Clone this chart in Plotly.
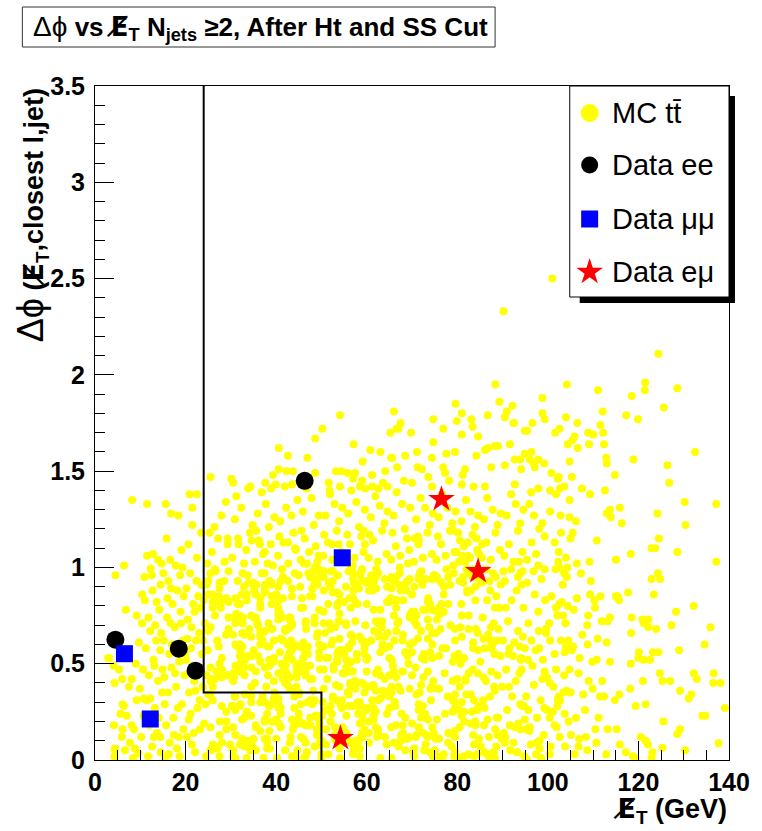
import plotly.graph_objects as go

# ---------------- data (read / estimated from the picture) ----------------
# Data events
ee_x = [4.5, 18.5, 22.2, 46.3]
ee_y = [0.625, 0.578, 0.464, 1.45]
mumu_x = [6.5, 12.2, 54.6]
mumu_y = [0.552, 0.213, 1.05]
emu_x = [54.2, 76.5, 84.6]
emu_y = [0.113, 1.354, 0.98]

# cut contour
cut_x = [24, 24, 50, 50]
cut_y = [3.5, 0.35, 0.35, 0]

# MC ttbar, low MET (0-25 GeV)
mc_left = [
    (3.1,0.53),(4.1,0.49),(4.3,0.40),(4.2,0.18),(4.3,0.055),(4.3,0.017),(2.9,0.53),(4.5,0.96),(4.4,0.06),
    (6.4,1.01),(6.8,0.78),(9.2,0.75),(9.7,0.61),(8.1,0.42),(6.0,0.42),(7.5,0.38),(9.9,0.37),(6.1,0.16),
    (5.9,0.12),(6.4,0.28),(5.6,0.24),(7.7,0.09),(9.6,0.035),(8.4,0.01),(9.2,0.31),(8.2,1.35),(6.1,0.29),
    (7.0,0.23),(8.1,0.18),(8.6,0.16),(5.3,0.47),(9.0,0.50),(8.8,0.06),(6.6,0.05),
    (11.5,1.33),(11.5,1.06),(12.8,1.07),(13.9,1.04),(14.7,1.02),(12.3,0.995),(12.5,0.96),(14.5,0.91),
    (10.4,0.86),(11.0,0.83),(10.4,0.71),(11.8,0.74),(12.2,0.67),(14.4,0.57),(10.8,0.32),(12.2,0.32),
    (10.6,0.47),(13.7,0.14),(14.4,0.12),(13.0,0.12),(14.5,0.04),(11.4,0.31),(12.9,0.52),(13.5,0.62),
    (11.2,0.58),(14.2,0.78),(13.6,0.82),(10.7,0.23),(12.0,0.18),(13.2,0.27),(14.8,0.35),(11.9,0.44),
    (13.9,0.41),(10.2,0.12),(12.6,0.07),(11.7,0.02),(14.1,0.22),(13.3,0.70),(14.6,0.66),(12.7,0.88),
    (10.9,0.95),(13.1,0.49),(14.9,0.47),
    (15.6,1.33),(16.8,1.28),(18.4,1.27),(15.8,1.15),(19.1,1.09),(16.6,1.04),(16.8,0.89),(18.2,0.88),
    (15.5,0.01),(16.3,0.03),(18.7,0.02),(15.2,0.62),(15.9,0.74),(16.4,0.55),(17.1,0.81),(17.6,0.69),
    (18.9,0.77),(19.4,0.62),(15.3,0.43),(16.1,0.35),(16.9,0.48),(17.3,0.22),(17.9,0.38),(18.6,0.51),
    (19.2,0.29),(19.8,0.44),(15.7,0.18),(16.5,0.09),(17.4,0.13),(18.1,0.06),(19.5,0.16),(15.1,0.97),
    (16.2,0.93),(17.8,1.01),(18.8,0.96),(19.6,0.85),(17.0,0.60),(18.3,0.27),(19.0,0.71),(15.4,0.29),
    (16.7,0.71),(17.7,0.45),(19.9,0.55),(18.5,0.12),(16.0,0.84),(19.3,1.0),
    (20.9,1.38),(22.5,1.38),(21.5,1.31),
    (20.3,0.12),(20.8,0.35),(21.2,0.58),(21.7,0.81),(22.1,0.04),(22.6,0.27),(23.0,0.66),(23.5,0.91),
    (24.1,0.19),(24.6,0.44),(20.5,0.73),(21.0,0.97),(21.4,0.08),(21.9,0.41),(22.3,0.62),(22.8,0.85),
    (23.2,0.16),(23.8,0.38),(24.3,0.71),(24.8,1.02),(20.1,0.52),(20.6,1.12),(21.1,0.24),(21.6,0.49),
    (22.0,0.77),(22.5,1.05),(23.1,0.31),(23.6,0.55),(24.0,0.83),(24.5,0.02),(20.7,0.21),(21.3,0.69),
    (21.8,0.14),(22.4,0.93),(22.9,0.47),(23.4,1.18),(23.9,0.62),(24.4,0.29),(24.9,0.57),(20.2,0.89),
    (21.5,1.22),(22.2,0.36),(23.3,0.79),(24.7,0.91),(20.4,0.63),
]

# MC ttbar, core 25-55 GeV
mc_core_a = [
    (25.5,0.41),(27.5,0.92),(28.0,0.53),(27.5,0.89),(28.5,0.93),(26.0,0.38),(27.0,0.62),(28.0,0.43),
    (26.5,0.83),(26.0,0.79),(27.5,0.02),(29.0,0.84),(25.5,0.97),(25.5,0.69),(26.5,0.99),(26.5,0.75),
    (25.5,0.05),(29.0,0.20),(29.5,0.74),(29.5,0.44),(26.5,0.07),(29.0,0.16),(27.0,0.06),(26.0,0.86),
    (26.0,0.08),(29.5,0.98),(28.0,0.28),(25.0,0.34),(29.0,0.25),(26.5,0.42),(25.5,0.17),(25.0,0.67),
    (29.5,0.82),(25.5,0.48),(25.0,0.86),(27.5,0.13),(26.0,0.82),(26.5,0.06),(28.0,0.47),(25.0,0.93),
    (29.0,0.44),(28.0,0.09),(27.5,0.50),(27.5,0.82),(26.0,0.31),
    (25.8,1.08),(27.2,1.15),(28.6,1.03),(26.4,1.21),(29.3,1.12),(27.9,1.27),(25.3,1.18),(28.9,1.34),
    (33.5,0.25),(31.5,0.59),(32.0,0.08),(30.5,0.28),(32.0,0.81),(30.5,0.17),(32.0,0.50),(31.0,0.84),
    (30.5,0.02),(33.5,0.01),(34.5,0.38),(32.5,0.21),(30.5,0.05),(32.5,0.59),(33.0,0.44),(33.0,0.22),
    (34.5,0.48),(34.5,0.54),(34.5,0.30),(31.5,0.81),(34.5,0.64),(32.0,0.28),(34.0,0.10),(34.5,0.75),
    (33.0,0.65),(34.5,0.33),(32.0,0.46),(30.8,0.33),(32.0,0.75),(33.0,0.48),(31.0,0.33),(33.5,0.86),
    (33.5,0.83),(30.5,0.65),(31.0,0.71),(31.0,0.01),(34.5,0.09),(30.5,0.45),(33.2,0.52),(32.5,0.66),
    (34.5,0.23),(32.0,0.60),(31.5,0.48),(33.0,0.10),(32.0,0.54),(31.0,0.26),(33.7,0.96),(31.0,0.13),
    (31.5,0.93),(33.0,0.07),(31.0,0.60),(31.0,0.49),(30.5,0.41),(31.0,0.73),(33.5,0.24),
    (30.3,1.05),(31.7,1.12),(32.9,1.02),(34.2,1.18),(30.9,1.25),(33.4,1.09),(32.3,1.31),(34.8,1.22),
    (31.2,1.37),(33.8,1.41),(34.0,0.92),(32.6,0.97),
    (37.5,0.87),(35.0,0.06),(38.0,0.06),(36.5,0.15),(37.5,0.88),(35.5,0.74),(39.0,0.81),(37.5,0.20),
    (39.5,0.20),(39.5,0.62),(39.0,0.29),(36.0,0.54),(35.0,0.91),(38.5,0.15),(36.5,0.64),(36.5,0.67),
    (39.0,0.92),(37.5,0.90),(36.5,0.60),(35.0,0.11),(36.5,0.30),(37.5,0.30),(37.5,0.48),(39.0,0.20),
    (37.0,0.66),(37.5,0.21),(36.5,0.84),(35.5,0.46),(39.5,0.51),(39.5,0.41),(37.5,0.11),(38.0,0.09),
    (37.0,0.33),(35.0,0.57),(36.0,0.70),(36.5,0.65),(38.5,0.59),(37.5,0.91),(39.5,0.53),(35.0,0.92),
    (35.5,0.86),(35.5,0.17),(36.5,0.81),(39.5,0.32),(38.0,0.11),(38.5,0.93),(35.5,0.05),(35.5,0.18),
    (38.2,0.44),(35.0,0.74),(37.0,0.62),(36.5,0.79),(39.2,0.68),(38.5,0.49),(37.5,0.67),(36.5,0.51),
    (39.0,0.85),(38.5,0.52),(38.0,0.24),(39.0,0.91),
    (35.3,1.03),(36.2,1.14),(37.1,1.07),(38.4,1.21),(39.3,1.01),(35.9,1.28),(37.7,1.33),(38.8,1.12),
    (36.8,1.39),(39.6,1.26),(37.4,0.97),(35.6,1.19),(38.1,1.02),
    (41.0,0.27),(44.5,0.38),(40.5,0.83),(40.0,0.11),(44.5,0.49),(40.5,0.29),(44.0,0.33),(43.0,0.73),
    (41.5,0.62),(42.0,0.40),(43.0,0.56),(43.0,0.43),(40.0,0.86),(40.0,0.21),(41.5,0.94),(44.5,0.46),
    (41.5,0.95),(41.0,0.24),(43.5,0.37),(40.5,0.90),(43.5,0.02),(40.5,0.79),(44.0,0.60),(44.5,0.43),
    (43.2,0.12),(43.5,0.70),(42.5,0.39),(41.0,0.17),(40.5,0.76),(41.0,0.93),(40.8,0.56),(43.5,0.52),
    (41.5,0.84),(43.0,0.74),(44.0,0.18),(42.0,0.67),(43.0,0.69),(42.0,0.05),(40.5,0.32),(40.2,0.01),
    (42.5,0.68),(40.5,0.27),(40.5,0.45),(41.0,0.63),(42.5,0.60),(44.0,0.27),(43.5,0.85),(43.5,0.71),
    (41.5,0.42),(43.5,0.57),(43.5,0.89),(43.0,0.09),(40.5,0.73),(43.0,0.37),(40.5,0.78),(43.5,0.21),
    (42.0,0.68),(42.3,0.45),(44.5,0.01),(41.3,0.99),
    (40.4,1.06),(41.6,1.13),(42.7,1.02),(43.8,1.18),(44.3,1.09),(40.9,1.24),(42.2,1.31),(43.4,1.27),
    (44.7,1.35),(41.9,1.42),(42.6,0.93),(44.1,0.97),(40.7,1.16),
    (49.5,0.53),(47.0,0.30),(45.5,0.46),(47.5,0.49),(47.5,0.85),(46.5,0.71),(45.0,0.50),(48.5,0.92),
    (46.0,0.79),(48.0,0.89),(46.0,0.58),(49.5,0.23),(47.5,0.42),(45.0,0.19),(49.5,0.56),(45.5,0.12),
    (45.5,0.29),(45.0,0.21),(49.5,0.60),(49.0,0.64),(45.0,0.34),(47.0,0.18),(45.5,0.59),(49.0,0.13),
    (48.0,0.29),(48.5,0.74),(48.5,0.71),(46.5,0.09),(49.2,0.66),(47.5,0.18),(48.5,0.07),(46.0,0.11),
    (46.5,0.49),(49.5,0.99),(49.8,0.95),(46.5,0.72),(49.5,0.78),(45.0,0.49),(49.7,0.47),(45.0,0.59),
    (48.5,0.31),(48.2,0.36),(49.0,0.16),(45.0,0.96),(46.5,0.18),(47.5,0.95),(45.0,0.24),(47.0,0.59),
    (47.0,0.55),(46.5,0.46),(49.5,0.08),(46.5,0.02),(48.0,0.42),(47.5,0.22),(46.8,0.04),(46.0,0.53),
    (46.5,0.44),(48.0,0.85),(45.0,0.35),(46.0,0.61),
    (45.4,1.04),(46.3,1.15),(47.3,1.08),(48.3,1.22),(49.1,1.03),(45.9,1.29),(47.8,1.36),(48.7,1.11),
    (46.7,1.41),(49.4,1.27),(47.1,0.97),(45.6,1.19),(48.9,0.94),(46.1,1.02),
    (54.5,0.31),(50.5,0.88),(50.5,0.71),(50.0,0.10),(50.0,0.03),(50.5,0.37),(54.0,0.38),(53.5,0.52),
    (54.0,0.86),(52.5,0.87),(52.5,0.33),(51.0,0.08),(51.5,0.81),(52.0,0.20),(53.0,0.17),(50.5,0.77),
    (53.0,0.69),(50.5,0.47),(51.5,0.03),(52.5,0.98),(51.0,0.53),(52.0,0.90),(52.0,0.28),(53.5,0.55),
    (52.0,0.68),(53.5,0.31),(50.5,0.59),(52.5,0.62),(54.0,0.63),(54.0,0.82),(51.5,0.53),(53.5,0.87),
    (52.5,0.93),(53.5,0.51),(54.5,0.57),(53.5,0.81),(54.0,0.57),(53.5,0.80),(52.5,0.32),(50.8,0.66),
    (51.0,0.26),(54.0,0.06),(53.0,0.13),(50.0,0.01),(54.5,0.27),(54.0,0.76),(53.0,0.11),(50.5,0.95),
    (54.5,0.09),(51.0,0.16),(52.3,0.24),(50.5,0.98),(51.3,0.42),(52.7,0.47),(53.8,0.72),(51.8,0.71),
    (54.7,0.45),(50.2,0.23),(51.6,0.92),(53.2,0.39),
    (50.4,1.06),(51.4,1.13),(52.4,1.04),(53.4,1.19),(54.4,1.08),(50.9,1.27),(52.9,1.33),(53.9,1.24),
    (51.9,1.38),(54.6,1.31),(52.1,0.98),(50.6,1.17),(53.6,0.96),(54.1,1.42),
]

# MC ttbar, core 55-100 GeV
mc_core_b = [
    (55.5,0.14),(56.0,0.59),(56.5,0.65),(59.5,0.58),(56.5,0.79),(59.0,0.23),(56.0,0.46),(56.8,0.61),
    (56.5,0.38),(59.5,0.27),(56.0,0.50),(57.0,0.88),(58.5,0.19),(59.5,0.16),(59.5,0.39),(57.5,0.37),
    (57.5,0.10),(55.0,0.82),(57.0,0.97),(57.0,0.94),(58.5,0.30),(58.0,0.81),(58.0,0.40),(58.0,0.28),
    (59.0,0.20),(59.0,0.99),(59.0,0.62),(57.0,0.03),(57.5,0.82),(56.0,0.34),(58.5,0.11),(58.5,0.06),
    (56.0,0.98),(59.0,0.14),(58.0,0.08),(56.5,0.51),(56.0,0.28),(58.0,0.30),(58.5,0.64),(56.5,0.09),
    (57.0,0.84),(59.5,0.60),(55.0,0.55),(56.0,0.58),(55.5,0.23),(57.5,0.72),(59.5,0.35),(59.0,0.40),
    (59.0,0.12),(55.5,0.48),(55.3,0.71),(55.0,0.45),(57.0,0.28),(56.0,0.10),(55.5,0.70),(59.0,0.93),
    (55.5,0.52),(57.8,0.55),(59.5,0.55),(57.0,0.64),
    (55.4,1.03),(56.3,1.12),(57.3,1.05),(58.3,1.21),(59.3,1.08),(55.9,1.28),(57.7,1.34),(58.8,1.16),
    (56.6,1.40),(59.6,1.30),(57.2,0.92),(55.7,1.17),(58.6,0.96),(56.9,1.01),
    (61.0,0.62),(64.0,0.94),(62.0,0.95),(60.0,0.93),(60.5,0.38),(62.0,0.96),(64.0,0.42),(60.0,0.81),
    (62.5,0.97),(62.5,0.66),(61.5,0.93),(63.0,0.44),(64.0,0.12),(62.5,0.47),(64.0,0.64),(61.5,0.23),
    (63.0,0.78),(61.5,0.78),(62.5,0.16),(60.5,0.27),(60.5,0.20),(64.5,0.90),(62.5,0.14),(63.0,0.56),
    (61.5,0.92),(60.0,0.46),(64.0,0.34),(60.0,0.61),(62.0,0.45),(63.0,0.32),(61.5,0.21),(61.5,0.39),
    (63.5,0.60),(60.0,0.26),(64.5,0.24),(60.5,0.14),(61.5,0.27),(62.0,0.72),(63.5,0.58),(63.0,0.01),
    (63.3,0.69),(62.5,0.31),(64.0,0.58),(62.0,0.17),(60.5,0.88),(60.0,0.52),(60.0,0.92),(61.0,0.96),
    (64.5,0.82),(62.0,0.25),(60.5,0.09),(62.5,0.71),(62.0,0.36),(63.5,0.36),(61.0,0.89),
    (60.4,1.05),(61.4,1.14),(62.4,1.03),(63.4,1.19),(64.4,1.07),(60.9,1.26),(62.9,1.32),(63.9,1.23),
    (61.9,1.37),(64.6,1.29),(62.1,0.99),(60.6,1.17),(63.6,1.44),(61.2,1.48),
    (65.0,0.59),(65.0,0.36),(65.5,0.01),(65.0,0.33),(65.0,0.53),(69.0,0.54),(65.0,0.82),(68.0,0.46),
    (65.5,0.52),(67.0,0.38),(68.0,0.14),(65.5,0.95),(65.5,0.94),(65.8,0.49),(69.5,0.60),(66.5,0.43),
    (68.5,0.05),(65.0,0.27),(67.5,0.36),(69.5,0.75),(66.1,0.62),(66.5,0.95),(66.0,0.09),(68.0,0.18),
    (68.5,0.11),(65.5,0.38),(66.0,0.93),(66.8,0.71),(66.5,0.79),(67.5,0.10),(69.0,0.11),(68.7,0.88),
    (67.0,0.07),(66.0,0.46),(69.5,0.37),(67.3,0.97),(69.5,0.74),(68.5,0.56),(65.5,0.35),(67.5,0.88),
    (66.0,0.75),(67.0,0.72),(65.5,0.89),(68.5,0.22),(69.0,0.93),(66.5,0.18),(67.7,0.24),(69.5,0.94),
    (69.5,0.12),(66.5,0.83),(66.5,0.67),(66.3,0.28),(65.0,0.44),(68.0,0.65),(67.9,0.62),
    (65.4,1.04),(66.4,1.11),(67.4,1.06),(68.4,1.20),(69.4,1.09),(65.9,1.27),(67.8,1.33),(68.9,1.15),
    (66.6,1.39),(69.6,1.31),(67.1,0.91),(65.7,1.18),(68.2,1.45),(69.1,1.02),
    (73.0,0.08),(70.5,0.02),(72.0,0.39),(73.0,0.94),(72.5,0.43),(72.0,0.22),(73.5,0.73),(70.0,0.19),
    (71.0,0.70),(74.5,0.17),(70.0,0.86),(71.5,0.94),(71.3,0.63),(70.0,0.77),(74.5,0.53),(73.5,0.21),
    (73.2,0.13),(71.5,0.29),(74.2,0.31),(71.0,0.75),(71.7,0.35),(72.0,0.67),(74.0,0.81),(73.5,0.46),
    (74.5,0.66),(72.8,0.52),(71.0,0.13),(70.3,0.04),(74.0,0.56),(73.5,0.12),(72.5,0.14),(71.5,0.26),
    (70.0,0.56),(73.5,0.82),(72.5,0.78),(70.5,0.77),(71.0,0.34),(73.8,0.69),(74.5,0.78),(74.5,0.60),
    (71.5,0.17),(73.5,0.63),(74.0,0.04),(70.5,0.72),(74.7,0.41),(70.0,0.44),(70.5,0.90),(72.3,0.91),
    (71.5,0.95),(70.8,0.48),
    (70.4,1.03),(71.4,1.12),(72.4,1.05),(73.4,1.18),(74.4,1.07),(70.9,1.25),(72.9,1.31),(73.9,1.22),
    (71.9,1.36),(74.6,1.28),(72.1,0.98),(70.6,1.15),(73.6,1.47),(71.2,1.52),(74.8,0.96),
    (78.0,0.14),(79.5,0.54),(77.5,0.58),(75.5,0.37),(75.0,0.05),(76.0,0.79),(79.5,0.27),(79.5,0.68),
    (79.0,0.25),(76.5,0.92),(76.0,0.54),(79.5,0.01),(78.0,0.95),(76.0,0.11),(79.5,0.12),(75.5,0.02),
    (75.0,0.96),(77.0,0.86),(77.0,0.03),(79.0,0.41),(79.5,0.15),(76.5,0.81),(79.5,0.62),(77.0,0.77),
    (75.5,0.77),(79.5,0.30),(75.3,0.66),(79.0,0.51),(78.5,0.70),(75.5,0.21),(79.5,0.34),(79.2,0.97),
    (78.4,0.91),(76.0,0.37),(77.6,0.99),(79.5,0.04),(75.5,0.95),(78.8,0.07),(75.5,0.73),(76.3,0.68),
    (78.0,0.81),(78.0,0.09),(79.0,0.31),(77.2,0.45),(77.9,0.33),
    (75.4,1.04),(76.4,1.12),(77.4,1.06),(78.4,1.19),(79.4,1.08),(75.9,1.26),(77.8,1.31),(78.9,1.23),
    (76.6,1.38),(79.6,1.29),(77.1,0.90),(75.7,1.16),(78.2,1.45),(79.1,1.01),(76.9,1.52),
    (84.5,0.45),(82.5,0.45),(83.0,0.34),(84.0,0.90),(81.0,0.30),(81.0,0.64),(81.0,0.52),(84.2,0.26),
    (81.5,0.25),(82.0,0.34),(82.5,0.68),(82.5,0.03),(80.5,0.26),(80.5,0.93),(84.0,0.18),(80.5,0.17),
    (80.0,0.01),(81.5,0.02),(83.5,0.13),(84.0,0.83),(81.0,0.75),(83.0,0.88),(83.5,0.58),(81.5,0.53),
    (84.0,0.20),(80.5,0.38),(80.0,0.42),(83.5,0.61),(83.7,0.08),(84.5,0.66),(82.9,0.19),(81.8,0.41),
    (84.6,0.57),(80.7,0.69),(80.2,0.55),(83.4,0.47),(82.5,0.75),(82.2,0.87),(80.9,0.81),(84.8,0.11),
    (81.3,0.95),(82.7,0.97),
    (80.4,1.03),(81.4,1.11),(82.4,1.06),(83.4,1.17),(84.4,1.09),(80.9,1.24),(82.9,1.29),(83.9,1.21),
    (81.9,1.35),(84.6,1.27),(82.1,0.99),(80.6,1.14),(83.6,1.42),(81.2,1.48),(84.8,0.94),
    (85.2,0.07),(85.7,0.31),(86.1,0.58),(86.6,0.83),(87.0,0.12),(87.5,0.46),(88.0,0.71),(88.5,0.95),
    (89.0,0.22),(89.5,0.54),(85.4,0.92),(85.9,0.18),(86.3,0.41),(86.8,0.65),(87.3,0.88),(87.8,0.03),
    (88.3,0.36),(88.8,0.62),(89.3,0.79),(89.8,0.11),(85.1,0.51),(85.6,0.74),(86.0,0.27),(86.9,0.02),
    (87.4,0.69),(87.9,0.97),(88.4,0.16),(88.9,0.44),(89.6,0.91),(86.4,0.99),(85.8,0.63),(87.2,0.33),
    (88.2,0.55),(89.1,0.68),(86.7,0.21),(88.6,0.85),(89.9,0.38),(87.6,0.58),
    (85.4,1.05),(86.4,1.13),(87.4,1.04),(88.4,1.18),(89.4,1.09),(85.9,1.25),(87.8,1.30),(88.9,1.22),
    (86.6,1.36),(89.6,1.28),(87.1,0.93),
    (90.3,0.14),(90.8,0.47),(91.2,0.72),(91.7,0.05),(92.1,0.33),(92.6,0.61),(93.1,0.88),(93.5,0.19),
    (94.0,0.52),(94.6,0.79),(90.5,0.93),(91.0,0.26),(91.5,0.58),(92.0,0.83),(92.4,0.09),(92.9,0.41),
    (93.4,0.67),(93.9,0.97),(94.3,0.28),(94.8,0.02),(90.1,0.62),(91.4,0.38),(92.7,0.17),(93.7,0.45),
    (94.5,0.64),(90.7,0.79),(91.9,0.99),(93.2,0.04),(94.2,0.91),(92.3,0.54),
    (90.4,1.06),(91.4,1.12),(92.4,1.03),(93.4,1.19),(94.4,1.08),(90.9,1.27),(92.9,1.33),(93.9,1.23),
    (91.9,1.38),(94.6,1.30),
    (95.2,0.33),(95.7,0.71),(96.2,0.08),(96.6,0.49),(97.1,0.86),(97.6,0.22),(98.1,0.58),(98.6,0.94),
    (99.1,0.13),(99.6,0.66),(95.4,0.92),(95.9,0.15),(96.4,0.62),(96.9,0.39),(97.4,0.03),(97.9,0.77),
    (98.4,0.31),(98.9,0.52),(99.4,0.83),(99.8,0.43),(95.6,0.52),(96.8,0.98),(97.3,0.57),(98.2,0.06),
    (99.2,0.27),
    (95.4,1.04),(96.4,1.13),(97.4,1.07),(98.1,1.20),(96.9,1.27),(95.9,1.33),(97.9,1.01),(99.3,0.99),
]

# MC ttbar, extra fill of the densest part of the core (25-95 GeV)
mc_core_c = [
    (27.4,0.85),(33.1,0.34),(26.6,0.98),(33.8,0.54),(34.3,0.05),(30.2,0.28),(30.7,0.43),(25.4,0.34),
    (32.2,0.56),(26.1,0.42),(27.8,0.79),(27.3,0.59),(32.9,0.90),(32.1,0.29),(32.5,0.11),(28.4,0.83),
    (34.6,1.14),(34.1,0.68),(29.3,1.15),(31.6,1.15),(32.7,0.74),(32.4,0.86),(29.8,0.08),(31.2,0.76),
    (25.7,0.42),(28.9,0.65),(32.6,0.71),(29.5,0.68),(26.9,0.46),(27.6,0.20),
    (43.3,0.62),(40.6,0.19),(41.2,0.50),(42.4,0.53),(42.8,0.55),(41.7,0.47),(36.4,1.12),(37.2,0.01),
    (38.6,0.06),(44.2,1.10),(36.8,0.97),(42.1,0.49),(38.3,0.71),(41.4,0.74),(44.7,0.05),(38.9,0.68),
    (37.5,1.08),(35.3,0.40),(39.6,0.35),(40.2,0.31),(35.8,0.71),(40.9,0.76),(35.1,0.88),(43.7,0.16),
    (37.8,0.38),(43.1,0.74),(42.6,1.13),(38.1,0.59),(35.6,0.91),(38.4,0.28),
    (48.2,0.98),(54.4,1.06),(45.3,0.90),(48.7,0.23),(50.3,0.30),(46.2,0.01),(54.1,0.01),(46.6,0.68),
    (48.6,1.00),(49.2,0.22),(52.4,1.12),(45.7,0.84),(47.3,0.18),(49.8,0.10),(54.7,0.17),(53.8,1.12),
    (49.4,1.06),(49.6,0.19),(52.2,0.60),(54.2,0.29),(49.1,0.91),(46.4,0.55),(45.5,0.79),(53.3,0.10),
    (47.6,0.31),(49.7,0.96),(45.9,0.19),(53.6,0.56),(52.7,0.49),(46.8,1.02),
    (58.3,0.89),(57.4,0.41),(60.2,0.53),(57.8,0.52),(62.3,0.12),(62.7,0.64),(64.4,0.08),(62.1,0.89),
    (59.3,1.19),(57.2,0.07),(64.6,0.66),(56.2,0.84),(57.6,0.91),(56.7,1.00),(63.4,0.72),(61.2,0.31),
    (56.3,0.40),(56.9,0.46),(59.7,0.70),(58.5,0.02),(55.4,0.90),(57.1,0.05),(59.6,1.12),(58.8,0.98),
    (61.6,0.67),(55.8,0.35),(62.9,0.72),(61.3,0.88),(62.5,0.13),(58.1,0.24),
    (65.2,0.84),(74.3,0.38),(73.6,0.84),(74.8,0.14),(72.2,0.53),(68.3,0.89),(72.7,0.05),(72.4,0.28),
    (65.7,0.83),(71.3,1.16),(72.9,0.24),(74.1,0.37),(65.4,0.17),(66.6,0.83),(67.3,1.00),(71.7,0.97),
    (74.6,0.02),(70.3,0.61),(70.8,0.12),(73.2,0.78),(72.6,0.55),(68.7,0.92),(67.6,0.13),(66.2,0.30),
    (67.9,0.46),(74.4,0.94),(69.2,0.50),(70.5,0.06),(71.5,1.14),(68.1,0.83),
    (81.3,0.92),(75.6,0.94),(80.4,0.53),(84.2,1.15),(83.6,0.99),(82.3,1.13),(81.7,1.03),(79.4,0.54),
    (79.8,1.08),(80.2,1.18),(82.8,1.05),(76.3,0.76),(81.1,1.06),(84.7,0.28),(75.2,0.11),(83.4,0.95),
    (78.6,0.14),(82.2,0.88),(81.5,0.20),(83.2,0.25),(80.7,0.50),(79.1,1.19),(84.4,0.26),(84.1,0.68),
    (81.8,0.42),(76.7,0.58),(77.3,0.24),(83.7,0.31),(84.8,1.07),(80.9,0.23),
    (88.3,0.79),(93.2,0.04),(88.7,0.22),(87.4,0.62),(93.6,1.03),(94.2,0.47),(93.8,0.59),(91.3,0.55),
    (90.6,0.12),(90.2,0.98),(85.5,1.12),(94.7,0.28),(94.4,0.98),(94.9,0.58),(93.4,0.95),(88.1,0.38),
    (85.8,0.43),(87.7,0.60),(94.1,0.53),(88.9,0.13),
]

# MC ttbar, high MET tail and bottom edge
mc_right = [
    (139.1,0.27),(137.7,0.087),(135.9,0.69),(134.6,0.60),(136.6,0.45),(136.5,0.40),(138.1,0.40),
    (132.2,0.45),(132.9,0.42),(134.1,0.23),(134.8,0.23),(132.2,0.80),(128.3,0.77),(127.3,0.70),
    (129.0,0.57),(129.2,0.36),(131.1,0.32),(131.7,0.34),(129.2,0.16),(128.6,0.135),(130.3,0.05),
    (125.3,0.064),(127.0,0.41),(125.3,0.41),(124.7,0.45),(125.5,0.20),(123.9,0.68),(122.2,0.69),
    (120.9,0.73),(121.2,0.71),(122.2,0.73),(123.2,0.56),(124.4,0.56),(122.6,0.52),(121.1,0.52),
    (120.0,0.53),(120.1,0.56),(118.3,0.50),(118.4,0.66),(118.5,0.74),(121.0,0.41),(118.2,0.37),
    (121.6,0.29),(119.4,0.28),(120.5,0.12),(121.6,0.10),(122.1,0.08),(123.1,0.04),(122.9,0.01),
    (118.8,0.02),(119.4,0.01),(117.2,0.04),(115.9,0.08),(115.2,0.16),(113.2,0.16),(114.8,0.31),
    (115.8,0.34),(113.7,0.51),(115.0,0.85),(115.7,0.83),(113.7,0.74),(113.2,0.72),(111.9,0.72),
    (113.0,0.61),(111.0,0.63),(112.0,0.41),(111.5,0.33),(112.4,0.33),(110.5,0.16),(112.9,0.03),
    (110.7,0.09),(109.0,0.41),(109.8,0.51),(108.8,0.60),(108.7,0.70),(108.9,0.75),(110.4,0.79),
    (110.3,0.83),(109.3,0.86),(108.4,0.12),(106.9,0.11),(106.8,0.07),(105.9,0.03),(104.6,0.20),
    (103.7,0.24),(104.1,0.36),(105.0,0.35),(103.4,0.35),(102.7,0.31),(102.2,0.31),(107.8,0.34),
    (107.0,0.53),(105.6,0.59),(105.3,0.57),(103.7,0.56),(104.0,0.59),(106.4,0.84),(104.4,0.80),
    (102.5,0.81),(103.1,0.82),(101.8,0.79),(102.1,0.75),(103.4,0.75),(100.5,0.62),(99.6,0.68),
    (98.0,0.67),(101.8,0.47),(100.4,0.40),(98.8,0.42),(99.3,0.46),(102.4,0.33),(100.4,0.22),
    (101.1,0.25),(99.8,0.26),(101.5,0.18),(103.8,0.07),(100.4,0.03),(98.5,0.01),(97.5,0.09),
    (98.2,0.10),(93.9,0.16),(95.2,0.16),(96.0,0.17),(94.9,0.21),(95.7,0.26),(93.9,0.29),(91.6,0.18),
    (90.2,0.11),(90.5,0.09),(95.4,0.0),(88.6,0.07),(88.3,0.01),(86.8,0.03),(88.0,0.04),(86.0,0.04),
    (84.4,0.03),(83.7,0.02),(80.3,0.01),(79.3,0.02),(76.7,0.0),
    (100.8,0.85),(101.5,0.55),(102.9,0.62),(103.9,0.71),(104.8,0.47),(101.2,0.38),(102.6,0.12),
    (103.3,0.91),(100.3,0.71),(101.9,0.17),(104.2,0.95),(105.7,0.78),(106.8,0.45),(107.6,0.65),
    (108.2,0.26),(109.5,0.93),(110.8,0.52),(111.6,0.85),(106.2,0.22),(107.3,0.97),(105.1,0.13),
    (100.6,0.07),(101.7,0.99),(102.1,0.28),(103.6,0.44),(104.5,0.62),(109.9,0.37),(111.2,0.22),
    (108.7,0.05),(106.4,1.02),
]

# MC ttbar, sparse upper halo
mc_halo = [
    (101.0,2.50),(90.2,2.33),(124.4,2.11),(88.4,1.95),(104.2,1.95),(111.1,1.92),(121.5,1.96),
    (121.4,1.92),(128.6,1.93),(118.5,1.89),(98.8,1.88),(89.3,1.86),(79.6,1.85),(92.2,1.84),
    (125.6,1.83),(81.0,1.80),(90.9,1.81),(86.7,1.79),(98.8,1.80),(112.1,1.81),(117.3,1.79),
    (119.9,1.77),(74.7,1.77),(79.9,1.76),(83.1,1.77),(90.5,1.78),(92.4,1.75),(99.3,1.77),
    (104.0,1.78),(106.5,1.75),(111.6,1.74),(96.6,1.75),(76.9,1.72),(83.4,1.73),
    (54.1,1.79),(66.0,1.81),(50.2,1.72),(67.5,1.75),(66.6,1.72),
    (48.6,1.67),(57.1,1.64),(65.2,1.70),(40.6,1.62),(42.6,1.58),(46.9,1.57),(60.8,1.61),(63.0,1.60),
    (59.1,1.55),(65.4,1.57),(40.6,1.51),(39.3,1.48),(42.3,1.50),(43.7,1.50),(48.6,1.49),(53.2,1.50),
    (54.4,1.50),(55.8,1.49),(57.4,1.49),(57.0,1.46),(25.5,1.47),(30.1,1.46),(30.5,1.44),(34.3,1.42),
    (37.6,1.44),(38.9,1.41),(39.9,1.43),(43.5,1.43),(51.6,1.44),(51.8,1.40),(59.0,1.45),(58.5,1.42),
    (59.7,1.41),(61.2,1.42),(62.6,1.41),(64.6,1.42),
    (132.5,1.60),(126.4,1.53),(118.9,1.56),(126.8,1.44),(130.2,1.34),(137.2,1.33),(124.2,1.28),
    (130.4,1.22),(124.5,1.15),(122.9,1.10),(123.7,1.10),(128.6,1.08),(137.2,1.03),(118.3,1.07),
    (115.0,1.04),(124.3,0.97),(124.8,0.94),(122.9,0.94),(123.4,0.86),(117.7,0.87),(115.4,0.85),
    (115.9,1.31),(116.3,1.23),(113.7,1.30),(113.9,1.26),(113.0,1.28),(112.6,1.40),(109.3,1.38),
    (107.5,1.41),(114.8,1.48),(112.9,1.57),(113.0,1.54),(112.4,1.64),(112.2,1.70),(110.8,1.14),
    (109.2,1.03),(104.8,1.35),(106.2,1.24),(102.8,1.27),(104.8,1.26),(105.5,1.18),(105.0,1.15),
    (102.9,1.18),(100.5,1.29),(98.8,1.23),(99.3,1.16),(101.5,1.13),(102.4,1.08),(102.3,1.03),
    (102.5,1.00),(104.0,1.05),(104.3,1.00),(103.6,0.97),(100.5,1.40),(101.8,1.38),(103.6,1.42),
    (102.7,1.41),(100.8,1.49),(102.4,1.47),(105.3,1.47),(106.6,1.62),(109.1,1.64),(108.9,1.70),
    (110.0,1.69),(104.4,1.64),(105.4,1.66),(105.9,1.68),(102.6,1.72),(101.6,1.70),(97.9,1.41),
    (96.0,1.56),(96.9,1.54),(97.9,1.56),(99.2,1.54),(96.4,1.60),(95.4,1.71),(92.5,1.75),(94.9,1.59),
    (93.9,1.56),(104.8,1.55),
    (67.0,1.72),(69.8,1.70),(74.7,1.65),(81.0,1.69),(84.6,1.68),(86.8,1.62),(89.0,1.63),(91.6,1.64),
    (94.9,1.71),(65.6,1.57),(68.5,1.58),(71.1,1.60),(74.4,1.57),(77.6,1.59),(79.5,1.60),(84.2,1.58),
    (86.1,1.61),(88.3,1.63),(92.7,1.56),(64.1,1.50),(66.7,1.52),(72.2,1.51),(77.3,1.49),(81.7,1.51),
    (87.5,1.52),(90.5,1.53),(94.1,1.51),(97.1,1.52),(102.2,1.46),(70.0,1.44),(74.4,1.42),(81.0,1.43),
    (86.1,1.42),(92.7,1.43),(96.3,1.39),
]

mc_points = mc_left + mc_core_a + mc_core_b + mc_core_c + mc_right + mc_halo
mc_x = [p[0] for p in mc_points]
mc_y = [p[1] for p in mc_points]

legend_labels = ["MC tt\u0304", "Data ee", "Data \u03bc\u03bc", "Data e\u03bc"]

# ---------------- layout helpers ----------------
W, H = 762, 831
ML, MR, MT, MB = 95, 30, 86, 71
PW, PH = W - ML - MR, H - MT - MB


def fx(p):
    return (p - ML) / PW


def fy(p):
    return (H - MB - p) / PH


FONT = "Liberation Sans, Arial, Helvetica, sans-serif"
MET = "<span style=\"font-family:'DejaVu Sans'\">E\u0338</span>"


def dphi(size):
    return "<span style=\"font-size:%dpx\">\u0394\u03d5</span>" % size


fig = go.Figure()

fig.add_trace(go.Scatter(x=mc_x, y=mc_y, mode="markers",
                         marker=dict(color="#ffff00", size=8, line=dict(width=0)),
                         hoverinfo="skip"))
fig.add_trace(go.Scatter(x=cut_x, y=cut_y, mode="lines",
                         line=dict(color="black", width=2), hoverinfo="skip"))
fig.add_trace(go.Scatter(x=ee_x, y=ee_y, mode="markers",
                         marker=dict(color="black", size=18, symbol="circle", line=dict(width=0))))
fig.add_trace(go.Scatter(x=mumu_x, y=mumu_y, mode="markers",
                         marker=dict(color="#0000ff", size=17, symbol="square", line=dict(width=0))))
fig.add_trace(go.Scatter(x=emu_x, y=emu_y, mode="markers",
                         marker=dict(color="#ff0000", size=20, symbol="star", line=dict(width=0))))

# hand-made legend (symbols on an overlay axis spanning the plot area)
leg_rows_px = [113, 165, 219, 272]
leg_sym = [("circle", "#ffff00", 18), ("circle", "black", 17), ("square", "#0000ff", 17), ("star", "#ff0000", 20)]
for (sym, col, sz), ry in zip(leg_sym, leg_rows_px):
    fig.add_trace(go.Scatter(x=[fx(592)], y=[fy(ry)], xaxis="x2", yaxis="y2", mode="markers",
                             marker=dict(symbol=sym, color=col, size=sz, line=dict(width=0)),
                             cliponaxis=False, hoverinfo="skip"))

annotations = []
for lab, ry in zip(legend_labels, leg_rows_px):
    annotations.append(dict(text=lab, xref="paper", yref="paper", x=fx(612), y=fy(ry),
                            xanchor="left", yanchor="middle", showarrow=False,
                            font=dict(family=FONT, size=29, color="black")))

# title
annotations.append(dict(
    text=dphi(28) + " <b>vs " + MET + "<sub>T</sub> N<sub>jets</sub> \u22652, After Ht and SS Cut</b>",
    xref="paper", yref="paper", x=fx(31), y=fy(28), xanchor="left", yanchor="middle",
    showarrow=False, font=dict(family=FONT, size=26, color="black")))

# axis titles
annotations.append(dict(
    text="<b>" + MET + "<sub>T</sub> (GeV)</b>", xref="paper", yref="paper",
    x=1.0, y=fy(810), xanchor="right", yanchor="middle", showarrow=False,
    font=dict(family=FONT, size=27, color="black")))
annotations.append(dict(
    text=dphi(36) + " <b>(" + MET + "<sub>T</sub>,closest l,jet)</b>", xref="paper", yref="paper",
    x=fx(31), y=1.0, xanchor="center", yanchor="top", textangle=-90, showarrow=False,
    font=dict(family=FONT, size=27, color="black")))

shapes = [
    dict(type="rect", xref="paper", yref="paper", x0=fx(22), x1=fx(497), y0=fy(47), y1=fy(7),
         line=dict(color="#333333", width=1), fillcolor="white", layer="below"),
    dict(type="rect", xref="paper", yref="paper", x0=fx(582), x1=fx(738), y0=fy(303), y1=fy(96),
         line=dict(width=0), fillcolor="black", layer="below"),
    dict(type="rect", xref="paper", yref="paper", x0=fx(572), x1=fx(732), y0=fy(297), y1=fy(86),
         line=dict(color="black", width=1), fillcolor="white", layer="below"),
]

axis_common = dict(showgrid=False, zeroline=False, showline=True, linecolor="black", linewidth=1,
                   mirror=True, ticks="inside", ticklen=19, tickwidth=1, tickcolor="black",
                   tickfont=dict(family=FONT, size=25, color="black", weight="bold"))

fig.update_layout(
    width=W, height=H, margin=dict(l=ML, r=MR, t=MT, b=MB, pad=0),
    paper_bgcolor="white", plot_bgcolor="rgba(0,0,0,0)",
    showlegend=False,
    xaxis=dict(range=[0, 140], tick0=0, dtick=20,
               minor=dict(dtick=5, ticks="inside", ticklen=10, tickcolor="black", tickwidth=1),
               **axis_common),
    yaxis=dict(range=[0, 3.5], tick0=0, dtick=0.5, ticklabelstandoff=4,
               minor=dict(dtick=0.1, ticks="inside", ticklen=10, tickcolor="black", tickwidth=1),
               **axis_common),
    xaxis2=dict(overlaying="x", range=[0, 1], visible=False),
    yaxis2=dict(overlaying="y", range=[0, 1], visible=False),
    annotations=annotations,
    shapes=shapes,
)

fig.write_html("out.html")
